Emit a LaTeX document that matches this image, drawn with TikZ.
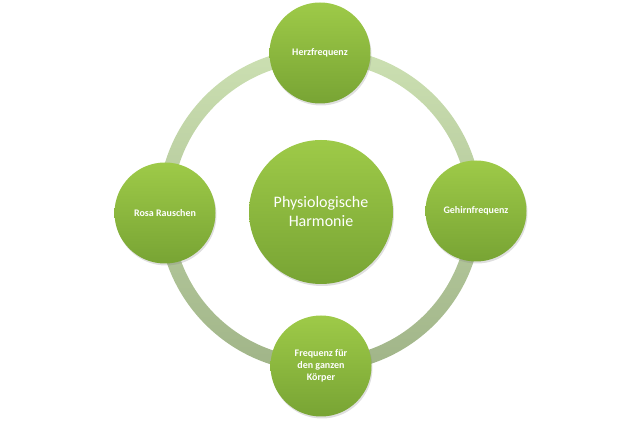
\documentclass[tikz,border=0pt]{standalone}
\usepackage{fontspec}
\setmainfont{Carlito}
\usepackage{xcolor}
\usetikzlibrary{shadows}
\definecolor{bubbletop}{RGB}{158,202,72}
\definecolor{bubblebot}{RGB}{120,164,52}
\definecolor{ringtop}{RGB}{204,224,178}
\definecolor{ringbot}{RGB}{160,180,136}
\tikzset{
  bubble/.style={circle,draw=none,top color=bubbletop,bottom color=bubblebot,
    text=white,align=center,inner sep=0pt,
    drop shadow={opacity=0.25,shadow xshift=1pt,shadow yshift=-2pt}},
  small/.style={bubble,minimum size=101pt,font=\fontsize{10}{12}\selectfont\bfseries},
  big/.style={bubble,minimum size=144pt,font=\fontsize{16}{19}\selectfont}
}

\begin{document}
\begin{tikzpicture}[x=1pt,y=-1pt]
  \useasboundingbox (0,0) rectangle (640,427);
  \shade[even odd rule,top color=ringtop,bottom color=ringbot]
    (320,210) circle (162) (320,210) circle (148);
  \node[big] (harmonie) at (321,212) {Physiologische\\Harmonie};
  \node[small] (herz) at (320,53) {Herzfrequenz};
  \node[small] (gehirn) at (476,211) {Gehirnfrequenz};
  \node[small] (koerper) at (321,366) {Frequenz f\"ur\\den ganzen\\K\"orper};
  \node[small] (rosa) at (165,213) {Rosa Rauschen};
\end{tikzpicture}
\end{document}
